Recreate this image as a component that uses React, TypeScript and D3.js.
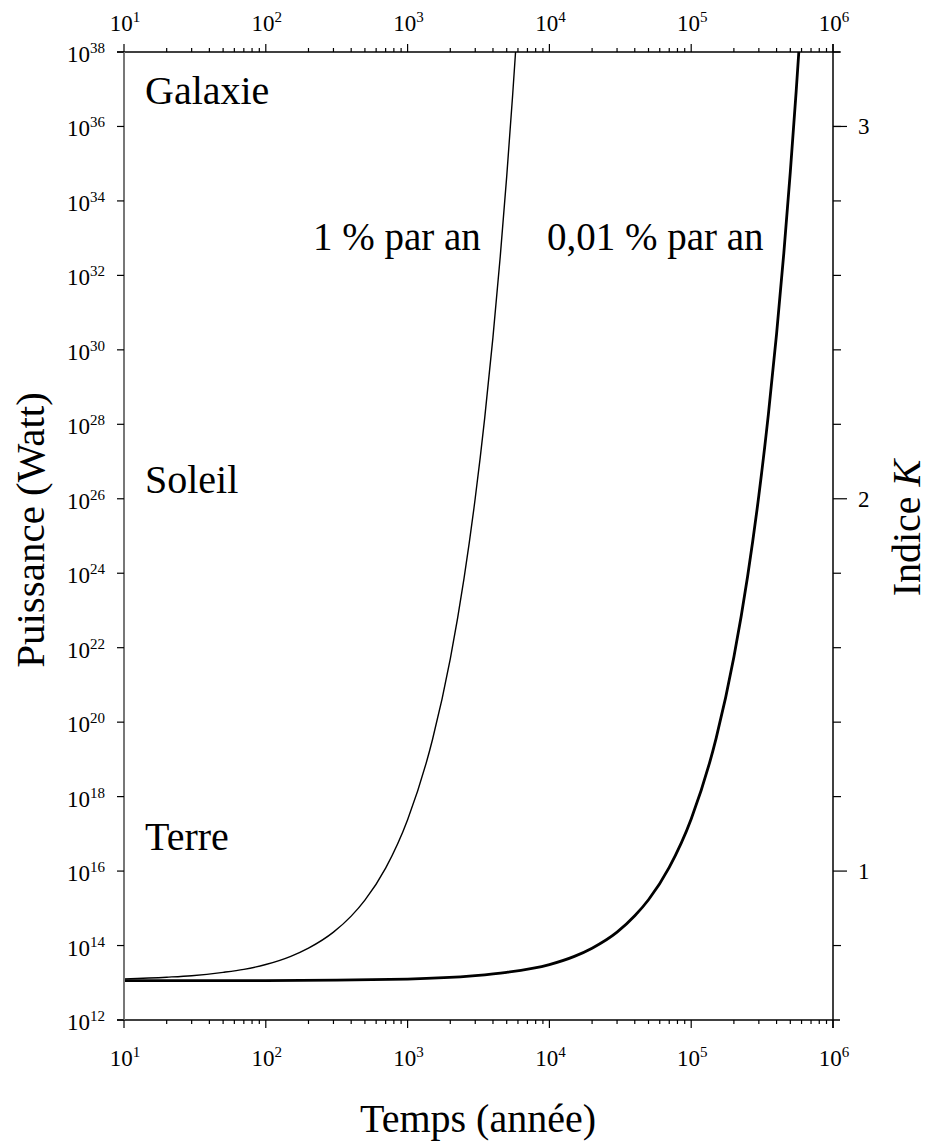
import React from "react";
import * as d3 from "d3";

// Time (years) and log10 of power (W)
const thinYears = [10, 20, 30, 50, 70, 100, 150, 200, 300, 400, 500, 700, 1000, 1500, 2000, 2500, 3000, 3500, 4000, 4500, 5000, 5500, 5772];
const thinLogPower = [13.10, 13.15, 13.19, 13.28, 13.36, 13.49, 13.71, 13.93, 14.36, 14.79, 15.22, 16.08, 17.38, 19.54, 21.70, 23.86, 26.02, 28.18, 30.34, 32.50, 34.66, 36.82, 38.0];

const thickYears = [10, 100, 1000, 3000, 5000, 10000, 15000, 20000, 30000, 40000, 50000, 70000, 100000, 150000, 200000, 250000, 300000, 350000, 400000, 450000, 500000, 550000, 574000];
const thickLogPower = [13.06, 13.06, 13.10, 13.19, 13.28, 13.49, 13.71, 13.93, 14.36, 14.80, 15.23, 16.10, 17.40, 19.57, 21.75, 23.92, 26.09, 28.26, 30.43, 32.60, 34.78, 36.95, 38.0];

const xExponents = [1, 2, 3, 4, 5, 6];
const yExponents = [12, 14, 16, 18, 20, 22, 24, 26, 28, 30, 32, 34, 36, 38];
const kMajor = [1, 2, 3];
const kMinor = [0.8, 1.2, 1.4, 1.6, 1.8, 2.2, 2.4, 2.6, 2.8, 3.0, 3.2];

const regionLabels = [
  { text: "Galaxie", logP: 36.6 },
  { text: "Soleil", logP: 26.15 },
  { text: "Terre", logP: 16.57 },
];

const FONT_ATTR = "'Liberation Serif'";

export default function App() {
  const left = 124, right = 833, top = 52, bottom = 1020;
  const x = d3.scaleLog().domain([10, 1e6]).range([left, right]);
  const y = d3.scaleLinear().domain([12, 38]).range([bottom, top]);
  const k = d3.scaleLinear().domain([0.6, 3.2]).range([bottom, top]);

  const line = d3
    .line<[number, number]>()
    .x((d) => x(d[0]))
    .y((d) => y(d[1]))
    .curve(d3.curveMonotoneX);

  const thin = thinYears.map((t, i) => [t, thinLogPower[i]] as [number, number]);
  const thick = thickYears.map((t, i) => [t, thickLogPower[i]] as [number, number]);

  const minorX: number[] = [];
  for (let e = 1; e < 6; e++) {
    for (let m = 2; m <= 9; m++) minorX.push(m * Math.pow(10, e));
  }

  const supLabel = (base: string, sup: string, props: any) => (
    <text {...props} fontFamily={FONT_ATTR} fontSize={23} fill="#000">
      <tspan>{base}</tspan>
      <tspan fontSize={15} dy={-9}>{sup}</tspan>
    </text>
  );

  return (
    <svg
      width={928}
      height={1142}
      style={{ position: "absolute", left: 0, top: 0, background: "#fff" }}
    >
      <defs>
        <clipPath id="plot">
          <rect x={left} y={top} width={right - left} height={bottom - top} />
        </clipPath>
      </defs>
      <rect x={0} y={0} width={928} height={1142} fill="#fff" />

      {/* curves */}
      <g clipPath="url(#plot)">
        <path d={line(thin) || ""} fill="none" stroke="#000" strokeWidth={1.4} />
        <path d={line(thick) || ""} fill="none" stroke="#000" strokeWidth={2.8} />
      </g>

      {/* bottom axis */}
      <line x1={117} x2={840} y1={bottom} y2={bottom} stroke="#000" strokeWidth={1.5} />
      {minorX.map((v) => (
        <line key={"bm" + v} x1={x(v)} x2={x(v)} y1={bottom} y2={bottom + 4} stroke="#000" strokeWidth={1.2} />
      ))}
      {xExponents.map((e) => (
        <line key={"bM" + e} x1={x(Math.pow(10, e))} x2={x(Math.pow(10, e))} y1={bottom} y2={bottom + 8} stroke="#000" strokeWidth={1.2} />
      ))}
      {xExponents.map((e) =>
        <React.Fragment key={"bl" + e}>
          {supLabel("10", String(e), { x: x(Math.pow(10, e)) + 1, y: 1066, textAnchor: "middle" })}
        </React.Fragment>
      )}

      {/* top axis */}
      <line x1={117} x2={840} y1={top} y2={top} stroke="#000" strokeWidth={1.5} />
      {minorX.map((v) => (
        <line key={"tm" + v} x1={x(v)} x2={x(v)} y1={top} y2={top - 4} stroke="#000" strokeWidth={1.2} />
      ))}
      {xExponents.map((e) => (
        <line key={"tM" + e} x1={x(Math.pow(10, e))} x2={x(Math.pow(10, e))} y1={top} y2={top - 8} stroke="#000" strokeWidth={1.2} />
      ))}
      {xExponents.map((e) =>
        <React.Fragment key={"tl" + e}>
          {supLabel("10", String(e), { x: x(Math.pow(10, e)) + 1, y: 31, textAnchor: "middle" })}
        </React.Fragment>
      )}

      {/* left axis */}
      <line x1={left} x2={left} y1={top} y2={bottom} stroke="#777" strokeWidth={2} />
      {yExponents.map((e) => (
        <line key={"lM" + e} x1={left - 7} x2={left} y1={y(e)} y2={y(e)} stroke="#000" strokeWidth={1.2} />
      ))}
      {yExponents.map((e) =>
        <React.Fragment key={"ll" + e}>
          {supLabel("10", String(e), { x: 105, y: y(e) + 10, textAnchor: "end" })}
        </React.Fragment>
      )}

      {/* right axis (Kardashev index) */}
      <line x1={right} x2={right} y1={top - 8} y2={bottom + 8} stroke="#000" strokeWidth={1.5} />
      {kMinor.map((v) => (
        <line key={"rm" + v} x1={right} x2={right + 8} y1={k(v)} y2={k(v)} stroke="#000" strokeWidth={1.2} />
      ))}
      {kMajor.map((v) => (
        <line key={"rM" + v} x1={right} x2={right + 14} y1={k(v)} y2={k(v)} stroke="#000" strokeWidth={1.2} />
      ))}
      {kMajor.map((v) => (
        <text key={"rl" + v} x={858} y={k(v) + 8} fontFamily={FONT_ATTR} fill="#000" fontSize={23}>
          {v}
        </text>
      ))}

      {/* region labels */}
      {regionLabels.map((r) => (
        <text key={r.text} x={145} y={y(r.logP)} fontFamily={FONT_ATTR} fill="#000" fontSize={40}>
          {r.text}
        </text>
      ))}

      {/* curve labels */}
      <text x={313} y={250} fontFamily={FONT_ATTR} fill="#000" fontSize={39}>1 % par an</text>
      <text x={547} y={250} fontFamily={FONT_ATTR} fill="#000" fontSize={39}>0,01 % par an</text>

      {/* axis titles */}
      <text x={478} y={1132} textAnchor="middle" fontFamily={FONT_ATTR} fill="#000" fontSize={40}>
        Temps (année)
      </text>
      <text
        transform="translate(44,530) rotate(-90)"
        textAnchor="middle"
        fontFamily={FONT_ATTR}
        fill="#000"
        fontSize={41}
      >
        Puissance (Watt)
      </text>
      <text
        transform="translate(920,528) rotate(-90)"
        textAnchor="middle"
        fontFamily={FONT_ATTR}
        fill="#000"
        fontSize={40}
      >
        Indice <tspan fontStyle="italic">K</tspan>
      </text>
    </svg>
  );
}
